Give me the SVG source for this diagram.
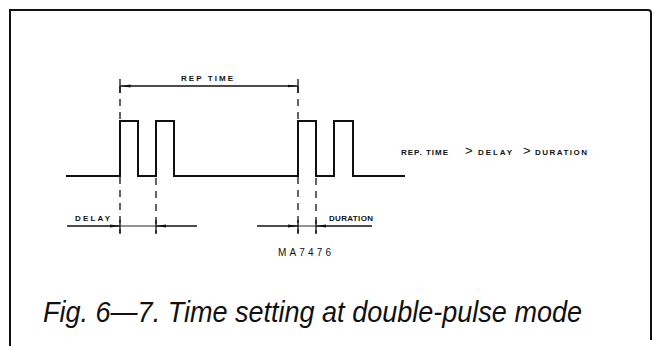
<svg xmlns="http://www.w3.org/2000/svg" width="657" height="346" viewBox="0 0 657 346">
<defs>
<style>
.lbl{font-family:"Liberation Sans",Arial,sans-serif;font-size:8px;font-weight:bold;fill:#111}
.cap{font-family:"Liberation Sans",Arial,sans-serif;font-size:29px;font-style:italic;fill:#111}
.id{font-family:"Liberation Sans",Arial,sans-serif;font-size:10px;fill:#111}
.wave{fill:none;stroke:#111;stroke-width:2;stroke-linejoin:miter}
.dash{fill:none;stroke:#111;stroke-width:1.3;stroke-dasharray:7 6}
.dim{fill:none;stroke:#111;stroke-width:1.3}
.thin{fill:none;stroke:#111;stroke-width:0.9}
.tick{fill:none;stroke:#111;stroke-width:1.3}
</style>
<marker id="ah" viewBox="0 0 10 4" refX="10" refY="2" markerWidth="10" markerHeight="4" markerUnits="userSpaceOnUse" orient="auto">
<path d="M0,0.6 L10,2 L0,3.4 Z" fill="#111"/>
</marker>
</defs>
<rect width="657" height="346" fill="#fff"/>
<g id="frame">
<path d="M10,346 V10 H648 Q651,10 651,13 V340" fill="none" stroke="#111" stroke-width="2"/>
</g>
<g id="waveform">
<polyline class="wave" points="66,176 120,176 120,121 138,121 138,176 156,176 156,121 174,121 174,176 298,176 298,121 316,121 316,176 334,176 334,121 353,121 353,176 405,176"/>
</g>
<g id="connectors">
<line class="dash" x1="120" y1="86" x2="120" y2="234"/>
<line class="dash" x1="298" y1="86" x2="298" y2="234"/>
<line class="dash" x1="156" y1="178" x2="156" y2="234"/>
<line class="dash" x1="316" y1="178" x2="316" y2="234"/>
<line class="tick" x1="120" y1="79" x2="120" y2="93"/>
<line class="tick" x1="298" y1="79" x2="298" y2="93"/>
<line class="dim" x1="209" y1="86" x2="120.5" y2="86" marker-end="url(#ah)"/>
<line class="dim" x1="209" y1="86" x2="297.5" y2="86" marker-end="url(#ah)"/>
<line class="dim" x1="67" y1="226" x2="120" y2="226" marker-end="url(#ah)"/>
<line class="thin" x1="120" y1="226" x2="156" y2="226"/>
<line class="dim" x1="197" y1="226" x2="156" y2="226" marker-end="url(#ah)"/>
<line class="tick" x1="120" y1="220" x2="120" y2="233"/>
<line class="tick" x1="156" y1="220" x2="156" y2="233"/>
<line class="dim" x1="257" y1="226" x2="298" y2="226" marker-end="url(#ah)"/>
<line class="thin" x1="298" y1="226" x2="316" y2="226"/>
<line class="dim" x1="372" y1="226" x2="316" y2="226" marker-end="url(#ah)"/>
<line class="tick" x1="298" y1="220" x2="298" y2="233"/>
<line class="tick" x1="316" y1="220" x2="316" y2="233"/>
</g>
<g id="labels">
<text class="lbl" x="181" y="81" textLength="52" lengthAdjust="spacing">REP TIME</text>
<text class="lbl" x="75" y="221" textLength="35" lengthAdjust="spacing">DELAY</text>
<text class="lbl" x="329" y="221" textLength="44" lengthAdjust="spacing">DURATION</text>
<text class="lbl" y="155"><tspan x="401" textLength="47" lengthAdjust="spacing">REP. TIME</tspan><tspan x="465" font-size="13" font-weight="normal">&gt;</tspan><tspan x="478" textLength="34" lengthAdjust="spacing">DELAY</tspan><tspan x="523" font-size="13" font-weight="normal">&gt;</tspan><tspan x="535" textLength="52" lengthAdjust="spacing">DURATION</tspan></text>
<text class="id" x="278" y="256" textLength="53" lengthAdjust="spacing">MA7476</text>
<text class="cap" x="43" y="322" textLength="539" lengthAdjust="spacingAndGlyphs">Fig. 6—7. Time setting at double-pulse mode</text>
</g>
</svg>
